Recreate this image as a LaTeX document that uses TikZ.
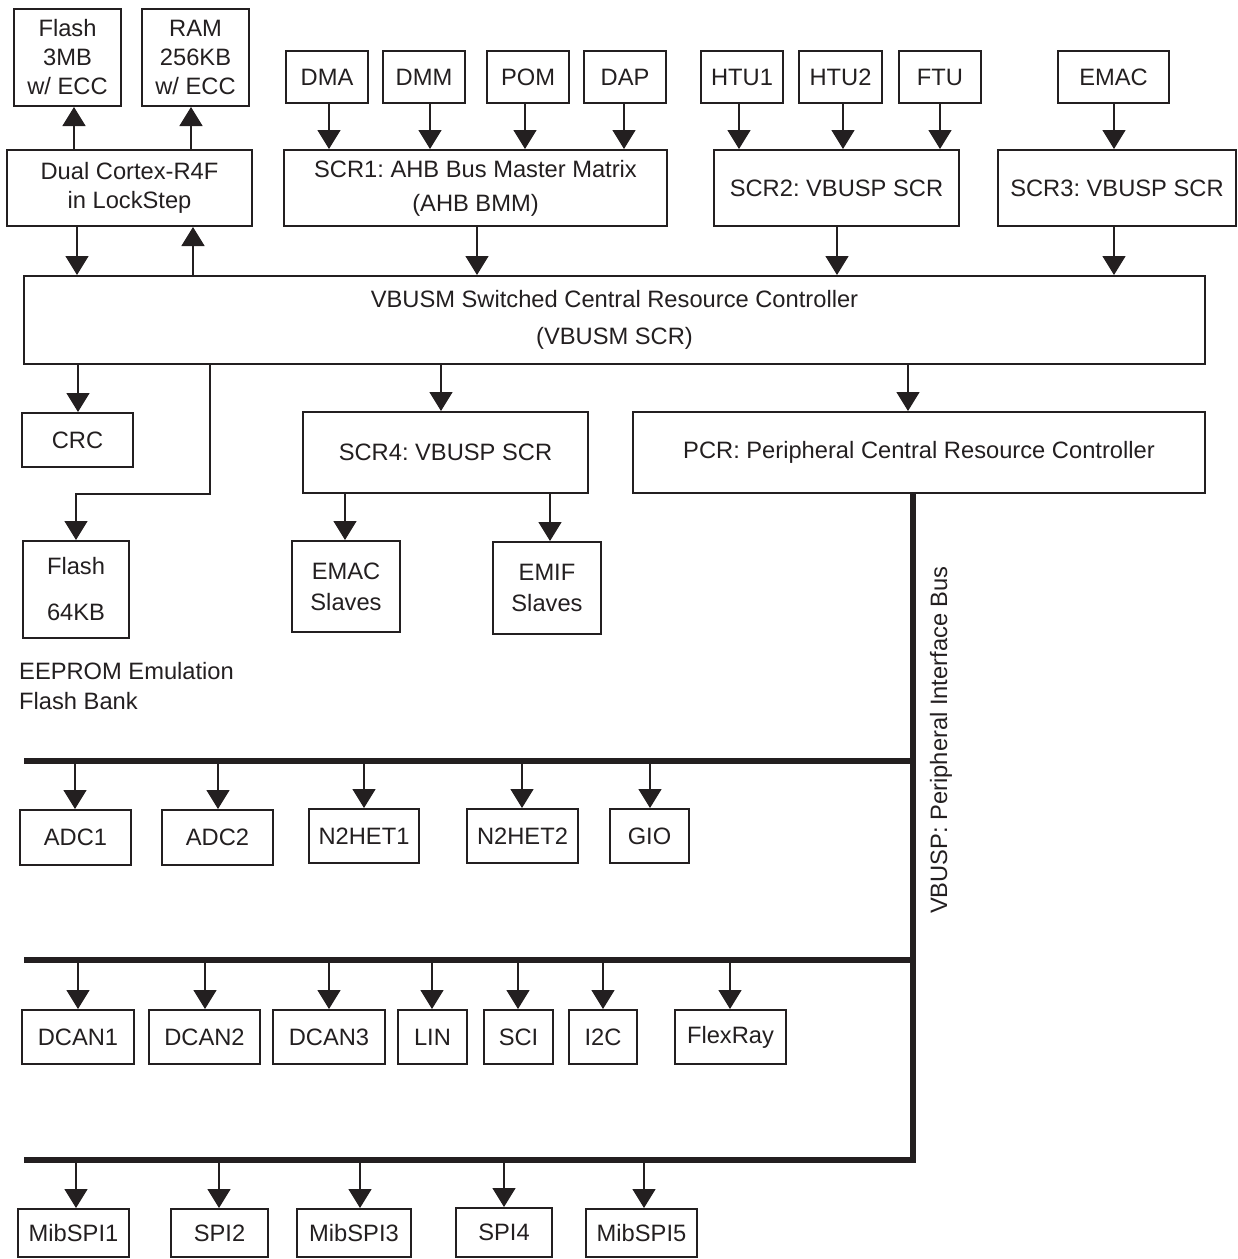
\documentclass[tikz,border=0pt]{standalone}
\usepackage{fontspec}
\setmainfont{Liberation Sans}
\usetikzlibrary{arrows.meta}
\frenchspacing
\definecolor{ink}{HTML}{231F20}
\tikzset{
  box/.style={draw=ink, line width=2pt, inner sep=0pt, align=center, text=ink,
              font=\fontsize{23.7}{29}\selectfont},
  arr/.style={draw=ink, line width=1.5pt, -{Triangle[width=23pt,length=19pt]}},
  bus/.style={draw=ink, line width=6.5pt},
  lbl/.style={text=ink, inner sep=0pt, font=\fontsize{23.7}{29}\selectfont}
}
\newcommand\bx[6]{\node[box, minimum width={#4-#2}, minimum height={#5-#3}] (#1) at ({(#2+#4)/2},{(#3+#5)/2}) {#6};}
\begin{document}
\begin{tikzpicture}[x=1pt,y=-1pt]
\useasboundingbox (0,0) rectangle (1238,1259);
% top row
\bx{flashA}{14}{9}{121}{106}{Flash\\3MB\\w/ ECC}
\bx{ram}{142}{9}{249}{106}{RAM\\256KB\\w/ ECC}
\bx{cpu}{7}{150}{252}{226}{Dual Cortex-R4F\\in LockStep}
\bx{dma}{286}{51}{368}{103}{DMA}
\bx{dmm}{383}{51}{465}{103}{DMM}
\bx{pom}{487}{51}{569}{103}{POM}
\bx{dap}{584}{51}{666}{103}{DAP}
\bx{htuA}{701}{51}{783}{103}{HTU1}
\bx{htuB}{799}{51}{882}{103}{HTU2}
\bx{ftu}{899}{51}{981}{103}{FTU}
\bx{emac}{1058}{51}{1169}{103}{EMAC}
\bx{scrA}{284}{150}{667}{226}{SCR1: AHB Bus Master Matrix\\[5pt](AHB BMM)}
\bx{scrB}{714}{150}{959}{226}{SCR2: VBUSP SCR}
\bx{scrC}{998}{150}{1236}{226}{SCR3: VBUSP SCR}
\bx{vbusm}{24}{276}{1205}{364}{VBUSM Switched Central Resource Controller\\[8pt](VBUSM SCR)}
% middle
\bx{crc}{22}{413}{133}{467}{CRC}
\bx{flashB}{23}{541}{129}{638}{Flash\\[17pt]64KB}
\bx{scrD}{303}{412}{588}{493}{SCR4: VBUSP SCR}
\bx{pcr}{633}{412}{1205}{493}{PCR: Peripheral Central Resource Controller}
\bx{emacs}{292}{541}{400}{632}{EMAC\\[2pt]Slaves}
\bx{emifs}{493}{542}{601}{634}{EMIF\\[2pt]Slaves}
\node[lbl, anchor=west, align=left] (eeprom) at (19,686) {EEPROM Emulation\\[1pt]Flash Bank};
% peripheral rows
\bx{adcA}{20}{810}{131}{865}{ADC1}
\bx{adcB}{162}{810}{273}{865}{ADC2}
\bx{hetA}{309}{809}{419}{863}{N2HET1}
\bx{hetB}{467}{809}{578}{863}{N2HET2}
\bx{gio}{610}{809}{689}{863}{GIO}
\bx{canA}{22}{1010}{134}{1064}{DCAN1}
\bx{canB}{149}{1010}{260}{1064}{DCAN2}
\bx{canC}{273}{1010}{385}{1064}{DCAN3}
\bx{lin}{398}{1010}{467}{1064}{LIN}
\bx{sci}{484}{1010}{553}{1064}{SCI}
\bx{iic}{569}{1010}{637}{1064}{I2C}
\bx{flex}{675}{1010}{786}{1064}{FlexRay}
\bx{spiA}{18}{1209}{129}{1257}{MibSPI1}
\bx{spiB}{171}{1209}{268}{1257}{SPI2}
\bx{spiC}{297}{1209}{411}{1257}{MibSPI3}
\bx{spiD}{456}{1208}{552}{1257}{SPI4}
\bx{spiE}{586}{1209}{697}{1257}{MibSPI5}
% vertical bus label
\node[lbl, rotate=90] (buslabel) at (941,740) {VBUSP: Peripheral Interface Bus};
% buses
\coordinate (busTop) at (913,493);
\coordinate (busBot) at (913,1163.25);
\coordinate (bAL) at (24,761);
\coordinate (bBL) at (24,960);
\coordinate (bCL) at (24,1160);
\draw[bus] (pcr.south -| busTop) -- (busBot);
\draw[bus] (bAL) -- (bAL -| busTop);
\draw[bus] (bBL) -- (bBL -| busTop);
\draw[bus] (bCL) -- (bCL -| busTop);
% top connectors
\draw[arr] (74,0 |- cpu.north) -- (74,0 |- flashA.south);
\draw[arr] (191,0 |- cpu.north) -- (191,0 |- ram.south);
\draw[arr] (77,0 |- cpu.south) -- (77,0 |- vbusm.north);
\draw[arr] (193,0 |- vbusm.north) -- (193,0 |- cpu.south);
\draw[arr] (329,0 |- dma.south) -- (329,0 |- scrA.north);
\draw[arr] (430,0 |- dmm.south) -- (430,0 |- scrA.north);
\draw[arr] (525,0 |- pom.south) -- (525,0 |- scrA.north);
\draw[arr] (624,0 |- dap.south) -- (624,0 |- scrA.north);
\draw[arr] (739,0 |- htuA.south) -- (739,0 |- scrB.north);
\draw[arr] (843,0 |- htuB.south) -- (843,0 |- scrB.north);
\draw[arr] (940,0 |- ftu.south) -- (940,0 |- scrB.north);
\draw[arr] (1114,0 |- emac.south) -- (1114,0 |- scrC.north);
\draw[arr] (477,0 |- scrA.south) -- (477,0 |- vbusm.north);
\draw[arr] (837,0 |- scrB.south) -- (837,0 |- vbusm.north);
\draw[arr] (1114,0 |- scrC.south) -- (1114,0 |- vbusm.north);
% middle connectors
\draw[arr] (78,0 |- vbusm.south) -- (78,0 |- crc.north);
\draw[arr] (210,0 |- vbusm.south) |- (76,494) -- (76,0 |- flashB.north);
\draw[arr] (441,0 |- vbusm.south) -- (441,0 |- scrD.north);
\draw[arr] (908,0 |- vbusm.south) -- (908,0 |- pcr.north);
\draw[arr] (345,0 |- scrD.south) -- (345,0 |- emacs.north);
\draw[arr] (550,0 |- scrD.south) -- (550,0 |- emifs.north);
% bus 1
\draw[arr] (75,0 |- bAL) -- (75,0 |- adcA.north);
\draw[arr] (218,0 |- bAL) -- (218,0 |- adcB.north);
\draw[arr] (364,0 |- bAL) -- (364,0 |- hetA.north);
\draw[arr] (522,0 |- bAL) -- (522,0 |- hetB.north);
\draw[arr] (650,0 |- bAL) -- (650,0 |- gio.north);
% bus 2
\draw[arr] (78,0 |- bBL) -- (78,0 |- canA.north);
\draw[arr] (205,0 |- bBL) -- (205,0 |- canB.north);
\draw[arr] (329,0 |- bBL) -- (329,0 |- canC.north);
\draw[arr] (432,0 |- bBL) -- (432,0 |- lin.north);
\draw[arr] (518,0 |- bBL) -- (518,0 |- sci.north);
\draw[arr] (603,0 |- bBL) -- (603,0 |- iic.north);
\draw[arr] (730,0 |- bBL) -- (730,0 |- flex.north);
% bus 3
\draw[arr] (76,0 |- bCL) -- (76,0 |- spiA.north);
\draw[arr] (219,0 |- bCL) -- (219,0 |- spiB.north);
\draw[arr] (360,0 |- bCL) -- (360,0 |- spiC.north);
\draw[arr] (504,0 |- bCL) -- (504,0 |- spiD.north);
\draw[arr] (644,0 |- bCL) -- (644,0 |- spiE.north);
\end{tikzpicture}
\end{document}
